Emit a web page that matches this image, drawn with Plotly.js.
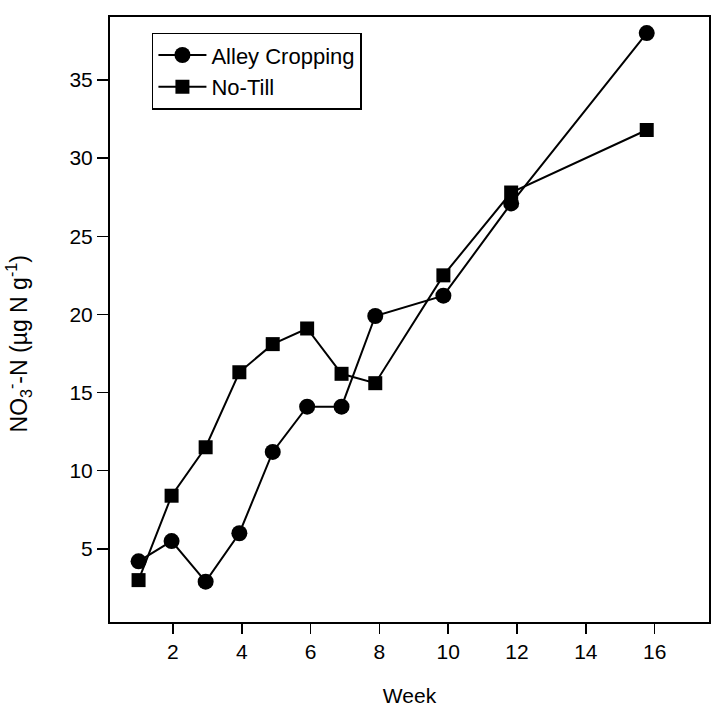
<!DOCTYPE html>
<html>
<head>
<meta charset="utf-8">
<script src="https://cdn.plot.ly/plotly-3.0.1.min.js"></script>
<style>
html,body{margin:0;padding:0;background:#fff;}
#chart{width:712px;height:709px;}
</style>
</head>
<body>
<div id="chart"></div>
<script>
// Sampling weeks
const weeks = [1.0, 1.96, 2.95, 3.93, 4.9, 5.9, 6.9, 7.88, 9.86, 11.83, 15.77];
const alleyCropping = [4.2, 5.5, 2.9, 6.0, 11.2, 14.1, 14.1, 19.9, 21.2, 27.1, 38.0];
const noTill = [3.0, 8.4, 11.5, 16.3, 18.1, 19.1, 16.2, 15.6, 22.5, 27.8, 31.8];
const xTicks = [2, 4, 6, 8, 10, 12, 14, 16];
const yTicks = [5, 10, 15, 20, 25, 30, 35];

const FONT = '"Liberation Sans", Arial, Helvetica, sans-serif';

const traces = [
  {
    x: weeks, y: alleyCropping, name: 'Alley Cropping',
    type: 'scatter', mode: 'lines+markers',
    line: {color: '#000', width: 2},
    marker: {symbol: 'circle', size: 16, color: '#000'}
  },
  {
    x: weeks, y: noTill, name: 'No-Till',
    type: 'scatter', mode: 'lines+markers',
    line: {color: '#000', width: 2},
    marker: {symbol: 'square', size: 14, color: '#000'}
  }
];

const layout = {
  width: 712, height: 709,
  margin: {l: 110, r: 3, t: 17, b: 87},
  paper_bgcolor: '#fff', plot_bgcolor: '#fff',
  font: {family: FONT, size: 20, color: '#000'},
  showlegend: true,
  legend: {
    x: 0.07, y: 0.974, xanchor: 'left', yanchor: 'top',
    bordercolor: '#000', borderwidth: 1.5, bgcolor: '#fff',
    font: {family: FONT, size: 22, color: '#000'},
    tracegroupgap: 0, itemwidth: 48
  },
  xaxis: {
    range: [0.17, 17.58],
    tickvals: xTicks, ticktext: xTicks.map(String),
    ticks: 'outside', ticklen: 10, tickwidth: 1.5, tickcolor: '#000',
    showline: true, linecolor: '#000', linewidth: 2, mirror: true,
    showgrid: false, zeroline: false,
    tickfont: {family: FONT, size: 21, color: '#000'},
    title: {text: 'Week', font: {family: FONT, size: 21, color: '#000'}, standoff: 26}
  },
  yaxis: {
    range: [0.32, 39.03],
    tickvals: yTicks, ticktext: yTicks.map(String),
    ticks: 'outside', ticklen: 11, tickwidth: 1.5, tickcolor: '#000',
    showline: true, linecolor: '#000', linewidth: 2, mirror: true,
    showgrid: false, zeroline: false,
    tickfont: {family: FONT, size: 21, color: '#000'}
  },
  annotations: [{
    text: 'NO<sub>3</sub><sup>-</sup>-N (µg N g<sup>-1</sup>)',
    xref: 'paper', yref: 'paper',
    x: -0.154, y: 0.46, xanchor: 'center', yanchor: 'middle',
    textangle: -90, showarrow: false,
    font: {family: FONT, size: 23, color: '#000'}
  }]
};

Plotly.newPlot('chart', traces, layout, {displayModeBar: false, staticPlot: true});
</script>
</body>
</html>
